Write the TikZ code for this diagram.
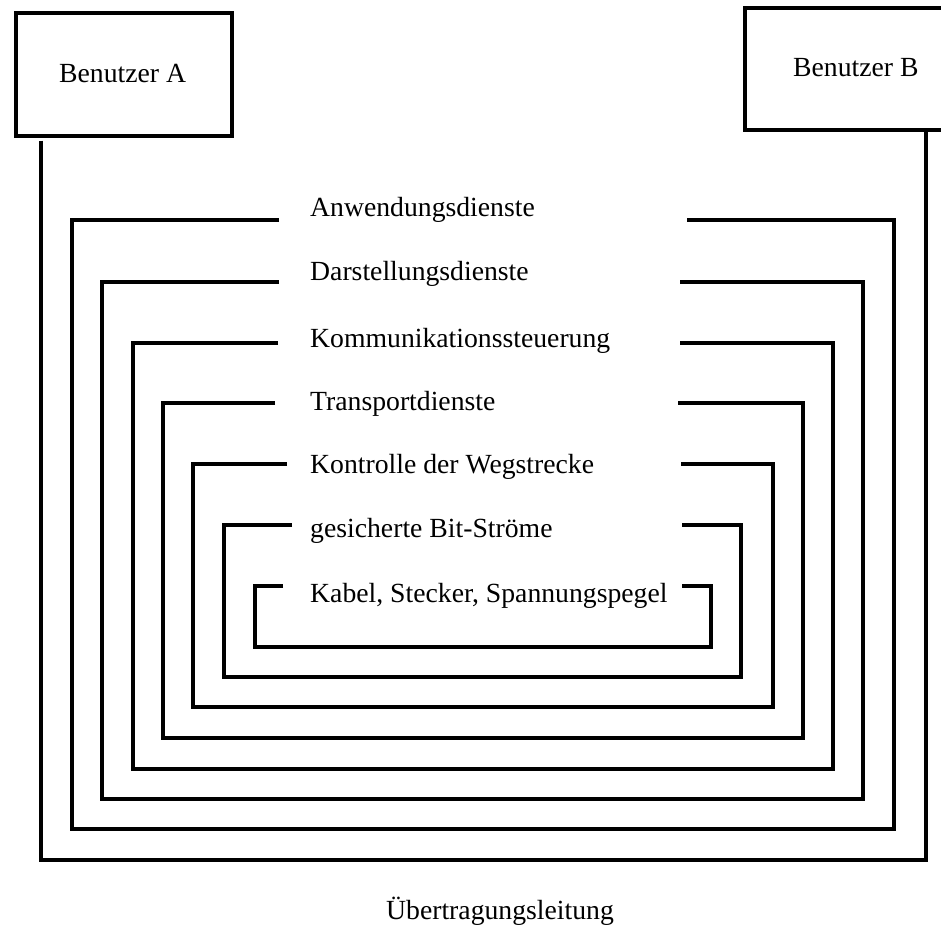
\documentclass[tikz,border=0pt]{standalone}
\usepackage{fontspec}
\setmainfont{Liberation Serif}
\begin{document}
\begin{tikzpicture}[x=1pt,y=-1pt,
  lay/.style={line width=3.1pt,line join=miter},
  box/.style={draw,line width=3.1pt,inner sep=0pt},
  lbl/.style={anchor=base west,inner sep=0pt,font=\fontsize{27.7}{30}\selectfont}]
\useasboundingbox (0,0) rectangle (941,933);
\fill[white] (0,0) rectangle (941,933);
% user boxes
\node[box,minimum width=216pt,minimum height=123pt] (benA) at (124,74.5) {};
\node[box,minimum width=215pt,minimum height=122pt] (benB) at (852.5,69) {};
\node[lbl] (tA) at (59,83) {Benutzer A};
\node[lbl] (tB) at (793,77) {Benutzer B};
% outer connection
\coordinate (ax) at (41,0);
\coordinate (bx) at (926,0);
\draw[lay,shorten <=3pt] (benA.south -| ax) -- (41,860) -- (926,860) -- (benB.south -| bx);
% nested layers
\foreach \t/\l/\b/\r/\le/\rs/\base/\txt in {
  220/72/829/894/279/687/217/Anwendungsdienste,
  282/102/799/863/279/680/280/Darstellungsdienste,
  343/133/769/833/278/680/347/Kommunikationssteuerung,
  403/163/738/803/275/678/410/Transportdienste,
  464/193/707/773/287/681/473/Kontrolle der Wegstrecke,
  525/224/677/741/292/682/537/gesicherte Bit-Ströme,
  586/255/647/711/283/682/602/{Kabel, Stecker, Spannungspegel}}{
  \draw[lay] (\le,\t) -- (\l,\t) -- (\l,\b) -- (\r,\b) -- (\r,\t) -- (\rs,\t);
  \node[lbl] at (310,\base) {\txt};
}
\node[lbl,anchor=base] (ul) at (500,919) {Übertragungsleitung};
\end{tikzpicture}
\end{document}
